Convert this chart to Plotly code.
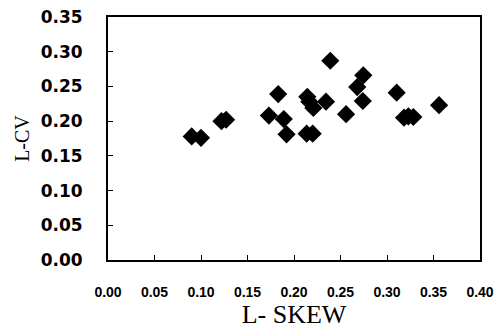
import plotly.graph_objects as go

l_skew = [0.090, 0.100, 0.122, 0.127, 0.173, 0.183, 0.189, 0.192,
          0.2136, 0.2143, 0.2165, 0.2201, 0.2208, 0.2344, 0.239, 0.256,
          0.268, 0.274, 0.2745, 0.3104, 0.3183, 0.323, 0.3283, 0.356]
l_cv = [0.178, 0.176, 0.200, 0.202, 0.208, 0.239, 0.203, 0.181,
        0.182, 0.235, 0.228, 0.182, 0.219, 0.228, 0.287, 0.210,
        0.249, 0.229, 0.266, 0.241, 0.205, 0.207, 0.206, 0.223]

x_ticks = [0.00, 0.05, 0.10, 0.15, 0.20, 0.25, 0.30, 0.35, 0.40]
y_ticks = [0.00, 0.05, 0.10, 0.15, 0.20, 0.25, 0.30, 0.35]

fig = go.Figure(go.Scatter(
    x=l_skew, y=l_cv, mode="markers",
    marker=dict(symbol="diamond", size=14, color="black", line=dict(width=0)),
))

fig.update_layout(
    width=504, height=329,
    margin=dict(l=108, r=24, t=17, b=69),
    paper_bgcolor="white", plot_bgcolor="white",
    showlegend=False,
)
fig.update_xaxes(
    range=[0, 0.40], tickvals=x_ticks, ticktext=[f"{v:.2f}" for v in x_ticks],
    showgrid=False, zeroline=False, automargin=False,
    showline=True, linecolor="black", linewidth=2, mirror=True,
    ticks="inside", ticklen=5, tickcolor="black",
    ticklabelstandoff=18,
    tickfont=dict(family="Liberation Sans", size=14, color="black", weight="bold"),
    title=dict(text="L- SKEW", font=dict(family="Liberation Serif", size=26, color="black"), standoff=0),
)
fig.update_yaxes(
    range=[0, 0.35], tickvals=y_ticks, ticktext=[f"{v:.2f}" for v in y_ticks],
    showgrid=False, zeroline=False, automargin=False,
    showline=True, linecolor="black", linewidth=2, mirror=True,
    ticks="inside", ticklen=5, tickcolor="black",
    ticklabelstandoff=20,
    tickfont=dict(family="DejaVu Sans", size=17, color="black", weight="bold"),
    title=dict(text="L-CV", font=dict(family="Liberation Serif", size=20, color="black"), standoff=6),
)

fig.write_html("out.html")
